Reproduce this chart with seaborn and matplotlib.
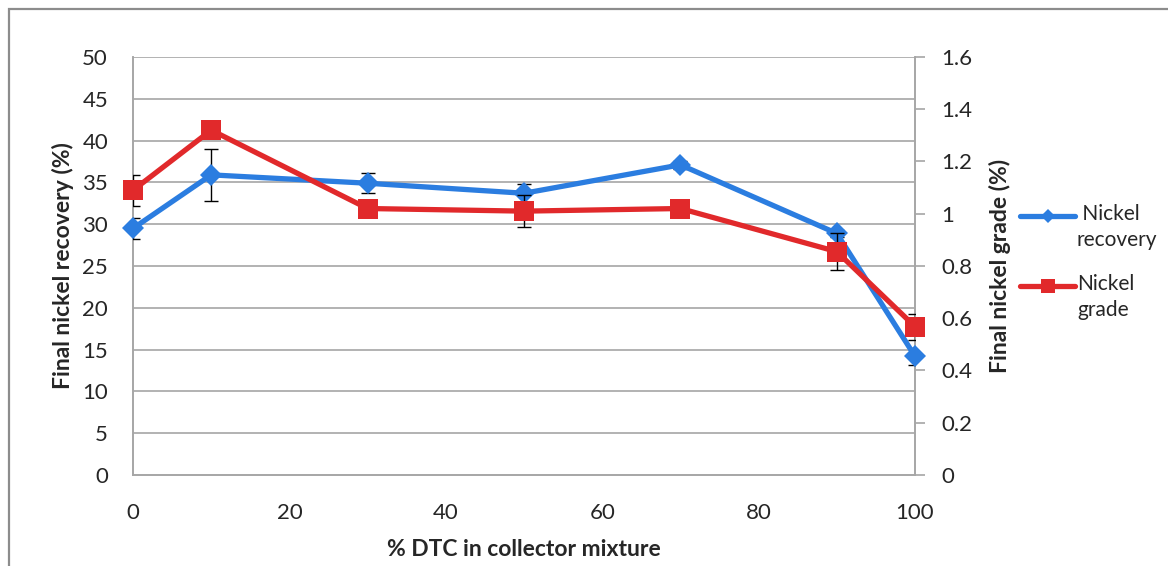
import matplotlib
matplotlib.use("Agg")
import matplotlib.pyplot as plt
from matplotlib.lines import Line2D
from matplotlib.patches import Rectangle
import seaborn as sns
import pandas as pd

# DTC share in the collector mixture (%)
dtc_pct = [0, 10, 30, 50, 70, 90, 100]
# Final nickel recovery (%) and its spread
recovery = [29.5, 35.9, 34.9, 33.7, 37.1, 28.9, 14.2]
recovery_err = [1.3, 3.1, 1.2, 1.1, 0.5, 0.4, 1.0]
# Final nickel grade (%) and its spread
grade = [1.09, 1.32, 1.02, 1.01, 1.02, 0.855, 0.568]
grade_err = [0.06, 0.02, 0.02, 0.06, 0.02, 0.07, 0.05]

x_ticks = [0, 20, 40, 60, 80, 100]
left_ticks = [0, 5, 10, 15, 20, 25, 30, 35, 40, 45, 50]
right_ticks = [0, 0.2, 0.4, 0.6, 0.8, 1.0, 1.2, 1.4, 1.6]
right_labels = ["0", "0.2", "0.4", "0.6", "0.8", "1", "1.2", "1.4", "1.6"]
series_names = [" Nickel\nrecovery", "Nickel\ngrade"]

BLUE = "#2b7de0"
RED = "#e1292b"
GRID = "#a6a6a6"
TEXT = "#262626"

sns.set_theme(style="white")
plt.rcParams["font.family"] = ["Lato", "DejaVu Sans"]

df = pd.DataFrame({"dtc": dtc_pct, "recovery": recovery, "grade": grade})

fig = plt.figure(figsize=(11.68, 5.66), dpi=100)
ax = fig.add_axes([0.1139, 0.1608, 0.6695, 0.7385])
ax2 = ax.twinx()

# outer chart frame
fig.patches.append(Rectangle((9 / 1168, -0.1), 1.2, 1 - 9 / 566 + 0.1,
                             transform=fig.transFigure, fill=False,
                             edgecolor="#8c8c8c", linewidth=1.6, zorder=0))

ax.set_zorder(ax2.get_zorder() + 1)
ax.patch.set_visible(False)

# gridlines
for v in left_ticks[1:]:
    ax.axhline(v, color=GRID, lw=1.2, zorder=0)

# recovery series on the left axis
ax.errorbar(dtc_pct, recovery, yerr=recovery_err, fmt="none", ecolor="black",
            elinewidth=1.0, capsize=5, capthick=1.0, zorder=3)
sns.lineplot(data=df, x="dtc", y="recovery", ax=ax, color=BLUE, lw=3.8,
             marker="D", markersize=11.5, markeredgewidth=0, zorder=4, clip_on=False)

# grade series drawn on the same axes, scaled to the right axis
scale = 50 / 1.6
df_scaled = df.assign(grade_s=[g * scale for g in grade])
ax.errorbar(dtc_pct, [g * scale for g in grade], yerr=[e * scale for e in grade_err],
            fmt="none", ecolor="black", elinewidth=1.0, capsize=5, capthick=1.0, zorder=5)
sns.lineplot(data=df_scaled, x="dtc", y="grade_s", ax=ax, color=RED, lw=3.8,
             marker="s", markersize=15, markeredgewidth=0, zorder=6, clip_on=False)

ax.set_xlim(0, 100)
ax.set_ylim(0, 50)
ax2.set_ylim(0, 1.6)

ax.set_xticks(x_ticks)
ax.set_xticklabels([str(t) for t in x_ticks])
ax.set_yticks(left_ticks)
ax.set_yticklabels([str(t) for t in left_ticks])
ax2.set_yticks(right_ticks)
ax2.set_yticklabels(right_labels)

ax.tick_params(axis="y", length=0, labelsize=16, labelcolor=TEXT, pad=18)
ax.tick_params(axis="x", length=0, labelsize=16, labelcolor=TEXT, pad=20)
ax2.tick_params(axis="y", length=7, width=1.2, color=GRID, direction="out",
                labelsize=16, labelcolor=TEXT, pad=12)

for a in (ax, ax2):
    for s in a.spines.values():
        s.set_color(GRID)
        s.set_linewidth(1.2)
ax.spines["top"].set_visible(False)
ax2.spines["top"].set_visible(False)

ax.set_xlabel("% DTC in collector mixture", fontsize=16.5, fontweight="bold",
              color=TEXT, labelpad=12)
ax.set_ylabel("Final nickel recovery (%)", fontsize=16.5, fontweight="bold",
              color=TEXT, labelpad=6)
ax2.set_ylabel("Final nickel grade (%)", fontsize=16.5, fontweight="bold",
               color=TEXT, labelpad=12)

# legend: handle aligned with the first text line of each entry
legend_entries = [(BLUE, "D", 7, series_names[0], 1 - 216 / 566),
                  (RED, "s", 10, series_names[1], 1 - 286 / 566)]
for color, mk, ms, label, yy in legend_entries:
    fig.add_artist(Line2D([1020 / 1168, 1075 / 1168], [yy, yy], color=color, lw=3.8,
                          transform=fig.transFigure))
    fig.add_artist(Line2D([1047.5 / 1168], [yy], color=color, marker=mk, markersize=ms,
                          markeredgewidth=0, transform=fig.transFigure))
    fig.text(1077 / 1168, yy + 12 / 566, label, fontsize=15, color=TEXT,
             ha="left", va="top", linespacing=1.35)

fig.savefig("out.png", dpi=100)
